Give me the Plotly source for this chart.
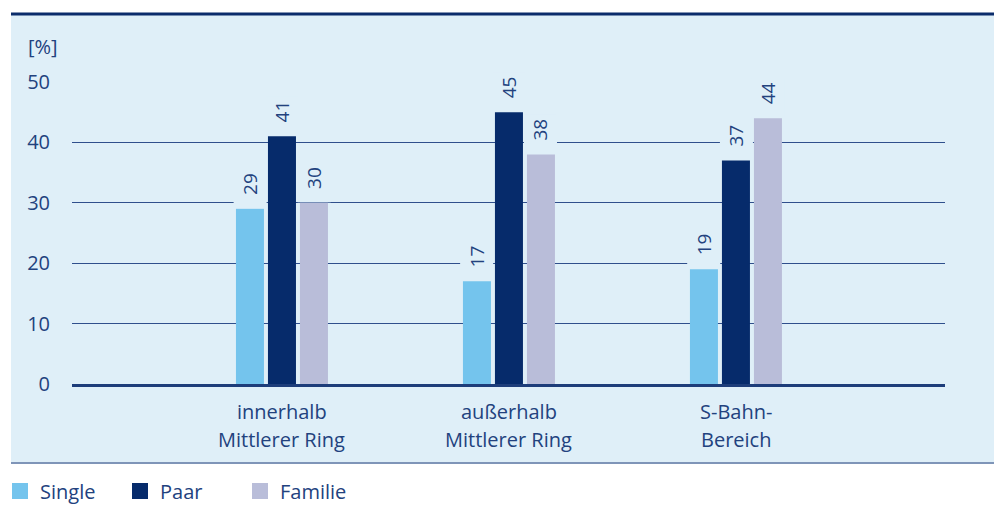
import plotly.graph_objects as go

# Data
categories = ["innerhalb<br>Mittlerer Ring", "außerhalb<br>Mittlerer Ring", "S-Bahn-<br>Bereich"]
series_names = ["Single", "Paar", "Familie"]
single = [29, 17, 19]
paar = [41, 45, 37]
familie = [30, 38, 44]
y_ticks = [0, 10, 20, 30, 40, 50]

# Styling
colors = ["#74c4ed", "#062b6b", "#b9bdd9"]
panel = "#dfeff8"
navy_text = "#22427e"
grid_col = "#2f4f8c"
font_family = "Open Sans, Noto Sans, sans-serif"
FS = 20

W, H = 994, 507
ML, MR, MT, MB = 72, 49, 82, 123
PW, PH = W - ML - MR, H - MT - MB


def px_x(px):
    return (px - ML) / PW


def px_y(py):
    return (H - MB - py) / PH


fig = go.Figure()
xs = list(range(len(categories)))
values = [single, paar, familie]

for name, vals, col in zip(series_names, values, colors):
    fig.add_trace(go.Bar(x=xs, y=vals, name=name, marker=dict(color=col, line=dict(width=0)),
                         showlegend=False, hoverinfo="skip"))

# legend entries
for name, col in zip(series_names, colors):
    fig.add_trace(go.Scatter(x=[None], y=[None], mode="markers", name=name,
                             marker=dict(symbol="square", size=16, color=col)))

bargap = 0.577
slot = (1 - bargap) / len(series_names)
offsets = [(k - (len(series_names) - 1) / 2) * slot for k in range(len(series_names))]

annotations = []
# value labels above bars
for k, vals in enumerate(values):
    for i, v in enumerate(vals):
        annotations.append(dict(
            x=xs[i] + offsets[k], y=v, xref="x", yref="y",
            text="\u00a0\u00a0" + str(v), textangle=-90, showarrow=False,
            xanchor="center", yanchor="bottom", bgcolor=panel, borderpad=3,
            font=dict(family=font_family, size=FS - 1, color=navy_text)))

# category labels
for i, cat in enumerate(categories):
    for j, line in enumerate(cat.split("<br>")):
        annotations.append(dict(
            x=xs[i], y=0, xref="x", yref="paper", text=line, showarrow=False,
            xanchor="center", yanchor="middle", yshift=-(27 + 28 * j),
            font=dict(family=font_family, size=FS, color=navy_text)))

# unit label
annotations.append(dict(
    x=px_x(26), y=px_y(46), xref="paper", yref="paper", text="[%]", showarrow=False,
    xanchor="left", yanchor="middle", font=dict(family=font_family, size=FS, color=navy_text)))

shapes = [
    dict(type="rect", xref="paper", yref="paper", x0=px_x(11), x1=px_x(1000),
         y0=px_y(463), y1=px_y(14), fillcolor=panel, line=dict(width=0), layer="below"),
    dict(type="line", xref="paper", yref="paper", x0=px_x(11), x1=px_x(1000),
         y0=px_y(14), y1=px_y(14), line=dict(color="#0b2c6b", width=3)),
    dict(type="line", xref="paper", yref="paper", x0=px_x(11), x1=px_x(1000),
         y0=px_y(463), y1=px_y(463), line=dict(color="#7f95b8", width=2)),
]

fig.update_layout(
    width=W, height=H,
    margin=dict(l=ML, r=MR, t=MT, b=MB, pad=0),
    paper_bgcolor="white", plot_bgcolor=panel,
    barmode="group", bargap=bargap, bargroupgap=0.125,
    font=dict(family=font_family, size=FS, color=navy_text),
    annotations=annotations, shapes=shapes,
    legend=dict(orientation="h", xref="container", yref="container",
                x=0, y=(H - 491) / H, xanchor="left", yanchor="middle",
                entrywidth=75, bgcolor="rgba(0,0,0,0)",
                font=dict(family=font_family, size=FS, color=navy_text)),
    xaxis=dict(range=[-0.925, 2.921], showticklabels=False, showgrid=False, zeroline=False,
               showline=True, linecolor="#1d3d7a", linewidth=3, layer="above traces",
               fixedrange=True),
    yaxis=dict(range=[0, 50], tickvals=y_ticks, showgrid=True, gridcolor=grid_col, gridwidth=1,
               zeroline=False, showline=False, ticks="", ticklabelstandoff=21,
               tickfont=dict(family=font_family, size=FS, color=navy_text), fixedrange=True),
)

fig.write_html("out.html")
